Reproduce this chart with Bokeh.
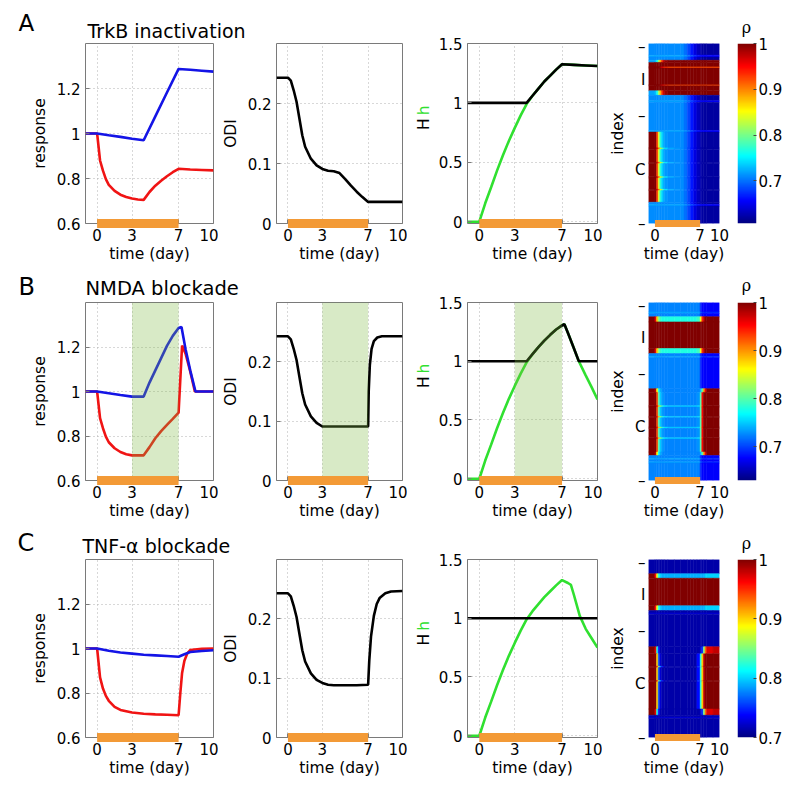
import numpy as np
from math import pi
from bokeh.plotting import figure
from bokeh.layouts import row, column
from bokeh.models import Range1d, FixedTicker, Label, BoxAnnotation, LinearColorMapper, ColumnDataSource
from bokeh.transform import linear_cmap
from bokeh.embed import file_html
from bokeh.resources import INLINE

# ---------------- data ----------------
treat_period = [0, 7]
block_period = [3, 7]

time_ticks = [0, 3, 7, 10]
time_tick_labels = ["0", "3", "7", "10"]
heat_time_ticks = [0, 7, 10]
heat_time_tick_labels = ["0", "7", "10"]
resp_ticks = [0.6, 0.8, 1, 1.2]
resp_tick_labels = ["0.6", "0.8", "1", "1.2"]
odi_ticks = [0, 0.1, 0.2]
odi_tick_labels = ["0", "0.1", "0.2"]
hh_ticks = [0, 0.5, 1, 1.5]
hh_tick_labels = ["0", "0.5", "1", "1.5"]
index_ticks = [0, 20, 40, 70, 100]
index_tick_labels = ["–", "I", "–", "C", "–"]
rho_ticks = [0.7, 0.8, 0.9, 1]
rho_tick_labels = ["0.7", "0.8", "0.9", "1"]

row_letters = ["A", "B", "C"]
row_titles = ["TrkB inactivation", "NMDA blockade", "TNF-α blockade"]
rho_low = [0.607, 0.63, 0.70]
rho_high = [1.0, 1.0, 1.0]

# --- row A: TrkB inactivation ---
tA_red = [-1, 0, 0.25, 0.5, 0.75, 1, 1.5, 2, 2.5, 3, 3.5, 4, 4.5, 5, 5.5, 6, 6.5, 7, 8, 9, 10]
redA = [1.0, 1.0, 0.88, 0.835, 0.797, 0.772, 0.745, 0.728, 0.718, 0.711, 0.707, 0.705, 0.74, 0.768, 0.79, 0.81, 0.828, 0.843, 0.84, 0.838, 0.836]
tA_blue = [-1, 0, 1, 2, 3, 4, 5, 6, 7, 8, 9, 10]
blueA = [1.0, 1.0, 0.992, 0.985, 0.977, 0.97, 1.076, 1.182, 1.287, 1.283, 1.279, 1.275]
tA_odi = [-1, 0, 0.25, 0.5, 0.75, 1, 1.25, 1.5, 2, 2.5, 3, 3.5, 4, 4.5, 5, 5.5, 6, 6.5, 7, 8, 9, 10]
odiA = [0.243, 0.243, 0.238, 0.222, 0.203, 0.175, 0.147, 0.128, 0.108, 0.097, 0.091, 0.088, 0.087, 0.084, 0.074, 0.063, 0.053, 0.044, 0.036, 0.036, 0.036, 0.036]
tA_h = [-1, 0, 0.5, 1, 1.5, 2, 2.5, 3, 3.5, 4, 4.5, 5, 5.5, 6, 6.5, 7, 8, 9, 10]
hA = [0, 0, 0.155, 0.29, 0.43, 0.56, 0.68, 0.79, 0.895, 0.99, 1.06, 1.12, 1.18, 1.23, 1.28, 1.325, 1.32, 1.315, 1.31]
tA_H = [-1, 0, 0.5, 1, 1.5, 2, 2.5, 3, 3.5, 4, 4.5, 5, 5.5, 6, 6.5, 7, 8, 9, 10]
HA = [1, 1, 1, 1, 1, 1, 1, 1, 1, 1, 1.06, 1.12, 1.18, 1.23, 1.28, 1.325, 1.32, 1.315, 1.31]

# --- row B: NMDA blockade ---
tB_red = [-1, 0, 0.25, 0.5, 0.75, 1, 1.5, 2, 2.5, 3, 4, 4.5, 5, 5.5, 6, 6.5, 7, 7.3, 7.6, 8, 8.4, 9, 10]
redB = [1.0, 1.0, 0.88, 0.835, 0.797, 0.772, 0.745, 0.728, 0.718, 0.713, 0.713, 0.75, 0.79, 0.822, 0.85, 0.877, 0.905, 1.207, 1.17, 1.09, 1.0, 1.0, 1.0]
tB_blue = [-1, 0, 1, 2, 3, 4, 4.5, 5, 5.5, 6, 6.5, 7, 7.25, 7.6, 8, 8.45, 9, 10]
blueB = [1.0, 1.0, 0.992, 0.984, 0.977, 0.977, 1.04, 1.095, 1.15, 1.205, 1.25, 1.285, 1.29, 1.19, 1.095, 1.0, 1.0, 1.0]
tB_odi = [-1, 0, 0.25, 0.5, 0.75, 1, 1.25, 1.5, 2, 2.5, 3, 7, 7.05, 7.15, 7.3, 7.5, 7.8, 8.2, 10]
odiB = [0.243, 0.243, 0.238, 0.222, 0.203, 0.175, 0.147, 0.128, 0.108, 0.097, 0.091, 0.091, 0.15, 0.195, 0.222, 0.235, 0.241, 0.243, 0.243]
tB_h = [-1, 0, 0.5, 1, 1.5, 2, 2.5, 3, 3.5, 4, 4.5, 5, 5.5, 6, 6.5, 7, 7.2, 7.5, 8, 8.42, 9, 9.5, 10]
hB = [0, 0, 0.155, 0.29, 0.43, 0.56, 0.68, 0.79, 0.895, 0.99, 1.06, 1.12, 1.175, 1.225, 1.27, 1.305, 1.315, 1.24, 1.11, 1.0, 0.88, 0.78, 0.675]
tB_H = [-1, 0, 0.5, 1, 1.5, 2, 2.5, 3, 3.5, 4, 4.5, 5, 5.5, 6, 6.5, 7, 7.2, 7.5, 8, 8.42, 9, 9.5, 10]
HB = [1, 1, 1, 1, 1, 1, 1, 1, 1, 1, 1.06, 1.12, 1.175, 1.225, 1.27, 1.305, 1.315, 1.24, 1.11, 1.0, 1.0, 1.0, 1.0]

# --- row C: TNF-alpha blockade ---
tC_red = [-1, 0, 0.25, 0.5, 0.75, 1, 1.5, 2, 3, 4, 5, 6, 7, 7.15, 7.3, 7.5, 7.75, 8, 9, 10]
redC = [1.0, 1.0, 0.87, 0.82, 0.787, 0.765, 0.738, 0.724, 0.712, 0.707, 0.704, 0.702, 0.70, 0.80, 0.89, 0.945, 0.978, 0.993, 0.999, 1.0]
tC_blue = [-1, 0, 1, 2, 3, 4, 5, 6, 7, 7.5, 8, 9, 10]
blueC = [1.0, 1.0, 0.99, 0.982, 0.977, 0.972, 0.969, 0.966, 0.963, 0.974, 0.984, 0.989, 0.992]
tC_odi = [-1, 0, 0.25, 0.5, 0.75, 1, 1.25, 1.5, 2, 2.5, 3, 3.5, 4, 5, 6, 7, 7.1, 7.25, 7.5, 7.75, 8, 8.5, 9, 10]
odiC = [0.243, 0.243, 0.238, 0.222, 0.203, 0.175, 0.147, 0.128, 0.108, 0.097, 0.092, 0.089, 0.088, 0.088, 0.088, 0.089, 0.13, 0.17, 0.205, 0.225, 0.235, 0.243, 0.246, 0.247]
tC_h = [-1, 0, 0.5, 1, 1.5, 2, 2.5, 3, 3.5, 4, 4.5, 5, 5.5, 6, 6.5, 7, 7.5, 7.75, 8, 8.5, 9, 9.5, 10]
hC = [0, 0, 0.155, 0.29, 0.43, 0.56, 0.68, 0.79, 0.895, 0.99, 1.06, 1.12, 1.18, 1.23, 1.28, 1.325, 1.30, 1.285, 1.2, 1.02, 0.91, 0.83, 0.75]
tC_H = [-1, 10]
HC = [1, 1]

# --- heatmaps (rho per neuron group over time bins) ---
heat_time_edges = [-1, 0, 0.25, 0.5, 0.75, 1, 1.25, 1.5, 2, 3, 4, 4.5, 5, 5.5, 6, 6.5, 7, 7.25, 7.5, 7.75, 8, 9, 10]

A_bg      = [0.71, 0.71, 0.71, 0.71, 0.71, 0.71, 0.71, 0.71, 0.71, 0.71, 0.71, 0.70, 0.685, 0.665, 0.645, 0.632, 0.625, 0.622, 0.62, 0.62, 0.62, 0.62]
A_streak  = [0.72, 0.72, 0.72, 0.72, 0.72, 0.72, 0.72, 0.72, 0.72, 0.72, 0.718, 0.71, 0.70, 0.685, 0.67, 0.662, 0.658, 0.656, 0.655, 0.655, 0.655, 0.655]
A_I       = [1.0, 1.0, 1.0, 1.0, 1.0, 1.0, 1.0, 1.0, 1.0, 1.0, 1.0, 1.0, 1.0, 1.0, 1.0, 1.0, 1.0, 1.0, 1.0, 1.0, 1.0, 1.0]
A_Istreak = [1.0, 1.0, 1.0, 1.0, 0.98, 0.96, 0.94, 0.93, 0.92, 0.92, 0.92, 0.92, 0.92, 0.92, 0.92, 0.92, 0.92, 0.92, 0.92, 0.92, 0.92, 0.92]
A_fringe  = [0.72, 0.73, 0.76, 0.82, 0.88, 0.93, 0.97, 0.99, 1.0, 1.0, 1.0, 1.0, 1.0, 1.0, 1.0, 1.0, 1.0, 1.0, 1.0, 1.0, 1.0, 1.0]
A_C       = [1.0, 1.0, 0.93, 0.84, 0.77, 0.74, 0.725, 0.715, 0.71, 0.71, 0.71, 0.70, 0.685, 0.665, 0.645, 0.632, 0.625, 0.622, 0.62, 0.62, 0.62, 0.62]
A_Cstreak = [1.0, 1.0, 0.97, 0.92, 0.86, 0.81, 0.77, 0.745, 0.725, 0.715, 0.71, 0.70, 0.685, 0.665, 0.645, 0.632, 0.625, 0.622, 0.62, 0.62, 0.62, 0.62]
A_rows = [(0, 6.5, "bg"), (6.5, 7.5, "streak"), (7.5, 9.3, "bg"), (9.3, 10.5, "fringe"), (10.5, 13, "I"),
          (13, 13.6, "Istreak"), (13.6, 23, "I"), (23, 23.5, "Istreak"), (23.5, 26.3, "I"), (26.3, 28.8, "fringe"),
          (28.8, 31.8, "bg"), (31.8, 32.6, "streak"), (32.6, 48.3, "bg"), (48.3, 49.2, "streak"), (49.2, 58, "C"),
          (58, 58.7, "Cstreak"), (58.7, 66, "C"), (66, 66.7, "Cstreak"), (66.7, 74, "C"), (74, 74.7, "Cstreak"),
          (74.7, 81, "C"), (81, 81.7, "Cstreak"), (81.7, 88.2, "C"), (88.2, 89.5, "bg"), (89.5, 90.3, "streak"),
          (90.3, 100, "bg")]

B_bg      = [0.725, 0.725, 0.725, 0.725, 0.725, 0.725, 0.725, 0.725, 0.725, 0.725, 0.725, 0.725, 0.725, 0.725, 0.725, 0.725, 0.69, 0.678, 0.675, 0.675, 0.675, 0.675]
B_streak  = [0.735, 0.735, 0.735, 0.735, 0.735, 0.735, 0.735, 0.735, 0.735, 0.735, 0.735, 0.735, 0.735, 0.735, 0.735, 0.735, 0.71, 0.695, 0.69, 0.69, 0.69, 0.69]
B_I       = [1.0, 1.0, 1.0, 1.0, 1.0, 1.0, 1.0, 1.0, 1.0, 1.0, 1.0, 1.0, 1.0, 1.0, 1.0, 1.0, 1.0, 1.0, 1.0, 1.0, 1.0, 1.0]
B_fringe  = [1.0, 0.96, 0.88, 0.82, 0.79, 0.78, 0.78, 0.78, 0.78, 0.78, 0.78, 0.78, 0.78, 0.78, 0.78, 0.79, 0.86, 0.94, 0.98, 1.0, 1.0, 1.0]
B_C       = [1.0, 1.0, 0.93, 0.80, 0.75, 0.735, 0.73, 0.725, 0.725, 0.725, 0.725, 0.725, 0.725, 0.725, 0.725, 0.73, 0.80, 0.95, 1.0, 1.0, 1.0, 1.0]
B_Cstreak = [1.0, 1.0, 0.96, 0.88, 0.82, 0.79, 0.77, 0.76, 0.75, 0.75, 0.75, 0.75, 0.75, 0.75, 0.75, 0.755, 0.82, 0.95, 1.0, 1.0, 1.0, 1.0]
B_Cedge   = [1.0, 0.98, 0.86, 0.77, 0.74, 0.73, 0.725, 0.725, 0.725, 0.725, 0.725, 0.725, 0.725, 0.725, 0.725, 0.725, 0.74, 0.80, 0.90, 0.96, 1.0, 1.0]
B_rows = [(0, 5.3, "bg"), (5.3, 6.2, "streak"), (6.2, 8.0, "bg"), (8.0, 10.9, "fringe"), (10.9, 25.9, "I"),
          (25.9, 28.7, "fringe"), (28.7, 30.2, "bg"), (30.2, 31.0, "streak"), (31.0, 48.4, "bg"), (48.4, 50.5, "Cedge"),
          (50.5, 58, "C"), (58, 58.7, "Cstreak"), (58.7, 64, "C"), (64, 64.7, "Cstreak"), (64.7, 70, "C"),
          (70, 70.7, "Cstreak"), (70.7, 76, "C"), (76, 76.7, "Cstreak"), (76.7, 84, "C"), (84, 86, "Cedge"),
          (86, 87.5, "bg"), (87.5, 88.3, "streak"), (88.3, 89.5, "bg"), (89.5, 90.2, "streak"), (90.2, 100, "bg")]

C_bg      = [0.712, 0.712, 0.712, 0.712, 0.712, 0.712, 0.712, 0.712, 0.712, 0.712, 0.712, 0.712, 0.712, 0.712, 0.712, 0.712, 0.712, 0.712, 0.712, 0.712, 0.712, 0.712]
C_streak  = [0.725, 0.725, 0.725, 0.725, 0.725, 0.725, 0.725, 0.725, 0.725, 0.725, 0.725, 0.725, 0.725, 0.725, 0.725, 0.725, 0.725, 0.725, 0.725, 0.725, 0.725, 0.725]
C_I       = [1.0, 1.0, 1.0, 1.0, 1.0, 1.0, 1.0, 1.0, 1.0, 1.0, 1.0, 1.0, 1.0, 1.0, 1.0, 1.0, 1.0, 1.0, 1.0, 1.0, 1.0, 1.0]
C_fringe  = [1.0, 0.96, 0.88, 0.82, 0.80, 0.79, 0.79, 0.79, 0.79, 0.79, 0.79, 0.79, 0.79, 0.79, 0.79, 0.79, 0.79, 0.79, 0.79, 0.80, 0.80, 0.80]
C_C       = [1.0, 1.0, 0.90, 0.76, 0.725, 0.715, 0.712, 0.712, 0.712, 0.712, 0.712, 0.712, 0.712, 0.712, 0.712, 0.74, 0.82, 0.90, 0.98, 1.0, 1.0, 1.0]
C_Cstreak = [1.0, 1.0, 0.95, 0.85, 0.78, 0.745, 0.725, 0.715, 0.712, 0.712, 0.712, 0.712, 0.712, 0.712, 0.712, 0.75, 0.83, 0.92, 0.99, 1.0, 1.0, 1.0]
C_Cedge   = [1.0, 0.97, 0.82, 0.74, 0.715, 0.712, 0.712, 0.712, 0.712, 0.712, 0.712, 0.712, 0.712, 0.712, 0.712, 0.712, 0.72, 0.75, 0.85, 0.93, 0.97, 0.98]
C_rows = [(0, 8.0, "bg"), (8.0, 10.5, "fringe"), (10.5, 26, "I"), (26, 28.7, "fringe"), (28.7, 30, "bg"),
          (30, 30.7, "streak"), (30.7, 49, "bg"), (49, 53, "Cedge"), (53, 60, "C"), (60, 60.7, "Cstreak"),
          (60.7, 68, "C"), (68, 68.7, "Cstreak"), (68.7, 84, "C"), (84, 87.5, "Cedge"), (87.5, 88.5, "bg"),
          (88.5, 89.2, "streak"), (89.2, 100, "bg")]

# ---------------- style / layout ----------------
RED = "#f01414"
BLUE = "#1414e6"
GREEN = "#30e030"
BLACK = "#000000"
ORANGE = "#f39a36"
SHADE = "#7dbb42"
FRAME = "#7a7a7a"
FONT = "DejaVu Sans"
TICK_SIZE = "15px"
LABEL_SIZE = "15.5px"
LW = 2.6

# columns: (frame width, border left, border right); index 2 is the "H h" label strip
COLS = [(128, 85, 5), (129, 55, 5), (25, 0, 0), (130, 35, 5), (71, 46, 18), (19, 0, 36)]
LEFT_W = sum(c[0] + c[1] + c[2] for c in COLS[:2])
RIGHT_W = sum(c[0] + c[1] + c[2] for c in COLS[2:])
# rows: (left header h, left border top, right header h, right border top, frame h, border bottom)
ROWS = [(42, 1, 37, 6, 180, 48), (30, 1, 25, 6, 178, 48), (30, 1, 25, 6, 178, 47)]
# header text centres (x px, y px from header top)
HEAD_LETTER = [(18, 22.5), (18, 15.5), (17, 14.5)]
HEAD_TITLE = [(87, 30.5), (85, 17.3), (82, 17)]
HEAD_RHO = [(339, 27), (339, 14), (339, 15)]
LETTER_SIZE = ["23px", "24px", "24px"]
TITLE_SIZE = ["19px", "19.5px", "19px"]


def jet_palette(n=256):
    cols = []
    for i in range(n):
        t = i / (n - 1)
        r = min(max(min(4 * t - 1.5, -4 * t + 4.5), 0), 1)
        g = min(max(min(4 * t - 0.5, -4 * t + 3.5), 0), 1)
        b = min(max(min(4 * t + 0.5, -4 * t + 2.5), 0), 1)
        cols.append("#%02x%02x%02x" % (int(round(r * 255)), int(round(g * 255)), int(round(b * 255))))
    return cols


JET = jet_palette()


def make_fig(ci, bt, fh, bb, xr, yr, **kw):
    fw, bl, br = COLS[ci]
    p = figure(width=bl + fw + br, height=bt + fh + bb, x_range=xr, y_range=yr,
               output_backend="svg", toolbar_location=None,
               min_border_left=bl, min_border_right=br, min_border_top=bt, min_border_bottom=bb, **kw)
    p.background_fill_color = "white"
    p.border_fill_color = "white"
    p.outline_line_color = FRAME
    p.outline_line_width = 1
    return p


def blank_fig(w, h):
    p = figure(width=w, height=h, x_range=Range1d(0, w), y_range=Range1d(h, 0),
               output_backend="svg", toolbar_location=None, x_axis_location=None, y_axis_location=None,
               min_border_left=0, min_border_right=0, min_border_top=0, min_border_bottom=0)
    p.outline_line_color = None
    p.grid.visible = False
    p.background_fill_color = "white"
    p.border_fill_color = "white"
    return p


def style_axes(p, xticks, xlabels, yticks, ylabels, ylabel, grid=True, ticks_visible=True):
    p.xaxis.ticker = FixedTicker(ticks=xticks)
    p.xaxis.major_label_overrides = {k: v for k, v in zip(xticks, xlabels)}
    p.yaxis.ticker = FixedTicker(ticks=yticks)
    p.yaxis.major_label_overrides = {k: v for k, v in zip(yticks, ylabels)}
    for ax in p.axis:
        ax.axis_line_color = None
        ax.major_tick_in = 4 if ticks_visible else 0
        ax.major_tick_out = 0
        ax.major_tick_line_color = FRAME if ticks_visible else None
        ax.minor_tick_line_color = None
        ax.major_label_text_font = FONT
        ax.major_label_text_font_size = TICK_SIZE
        ax.major_label_text_color = "black"
        ax.axis_label_text_font = FONT
        ax.axis_label_text_font_size = LABEL_SIZE
        ax.axis_label_text_font_style = "normal"
        ax.axis_label_text_color = "black"
    p.xaxis.axis_label = "time (day)"
    p.xaxis.major_label_standoff = 5
    p.xaxis.axis_label_standoff = 1
    p.yaxis.major_label_standoff = 5
    p.yaxis.axis_label_standoff = 5
    if ylabel:
        p.yaxis.axis_label = ylabel
    if grid:
        p.grid.grid_line_color = "#b0b0b0"
        p.grid.grid_line_dash = "1 3"
        p.grid.grid_line_width = 1
    else:
        p.grid.visible = False


def add_treatment(p, ybase, width=9):
    p.line(treat_period, [ybase, ybase], line_width=width, color=ORANGE, level="overlay")


def add_block(p):
    p.add_layout(BoxAnnotation(left=block_period[0], right=block_period[1], fill_color=SHADE,
                               fill_alpha=0.3, line_color=None, level="annotation"))


def heat_source(rows, profiles):
    l, r, t, b, v = [], [], [], [], []
    for (i0, i1, name) in rows:
        prof = profiles[name]
        for k in range(len(heat_time_edges) - 1):
            l.append(heat_time_edges[k])
            r.append(heat_time_edges[k + 1])
            t.append(i0)
            b.append(i1)
            v.append(prof[k])
    return ColumnDataSource(dict(l=l, r=r, t=t, b=b, v=v))


def build_row(ri, red, blue, odi, h, H, heat_rows, heat_prof, shaded):
    lh, lbt, rh, rbt, fh, bb = ROWS[ri]

    # ---- left header: letter + title ----
    hl = blank_fig(LEFT_W, lh)
    lx, ly = HEAD_LETTER[ri]
    hl.add_layout(Label(x=lx, y=ly, text=row_letters[ri], text_font=FONT, text_font_size=LETTER_SIZE[ri],
                        text_align="left", text_baseline="middle", text_color="black"))
    tx, ty = HEAD_TITLE[ri]
    hl.add_layout(Label(x=tx, y=ty, text=row_titles[ri], text_font=FONT, text_font_size=TITLE_SIZE[ri],
                        text_align="left", text_baseline="middle", text_color="black"))

    # ---- right header: rho ----
    hr = blank_fig(RIGHT_W, rh)
    rx, ry = HEAD_RHO[ri]
    hr.add_layout(Label(x=rx, y=ry, text="ρ", text_font="DejaVu Serif", text_font_size="16px",
                        text_align="center", text_baseline="middle", text_color="black"))

    # ---- response ----
    p1 = make_fig(0, lbt, fh, bb, Range1d(-1, 10), Range1d(0.6, 1.4))
    style_axes(p1, time_ticks, time_tick_labels, resp_ticks, resp_tick_labels, "response")
    p1.line(red[0], red[1], line_width=LW, color=RED)
    p1.line(blue[0], blue[1], line_width=LW, color=BLUE)
    if shaded:
        add_block(p1)
    add_treatment(p1, 0.6)

    # ---- ODI ----
    p2 = make_fig(1, lbt, fh, bb, Range1d(-1, 10), Range1d(0, 0.3))
    style_axes(p2, time_ticks, time_tick_labels, odi_ticks, odi_tick_labels, "ODI")
    p2.line(odi[0], odi[1], line_width=LW, color=BLACK)
    if shaded:
        add_block(p2)
    add_treatment(p2, 0)

    # ---- "H h" axis-label strip ----
    ps = blank_fig(COLS[2][0], rbt + fh + bb)
    ymid = rbt + fh / 2
    ps.add_layout(Label(x=16, y=ymid + 9, text="H", angle=pi / 2, text_font=FONT,
                        text_font_size=LABEL_SIZE, text_align="center", text_baseline="middle",
                        text_color="black"))
    ps.add_layout(Label(x=16, y=ymid - 9, text="h", angle=pi / 2, text_font=FONT,
                        text_font_size=LABEL_SIZE, text_align="center", text_baseline="middle",
                        text_color=GREEN))

    # ---- H h ----
    p3 = make_fig(3, rbt, fh, bb, Range1d(-1, 10), Range1d(-0.015, 1.5))
    style_axes(p3, time_ticks, time_tick_labels, hh_ticks, hh_tick_labels, None)
    p3.line(h[0], h[1], line_width=LW, color=GREEN)
    p3.line(H[0], H[1], line_width=LW, color=BLACK)
    if shaded:
        add_block(p3)
    add_treatment(p3, -0.015)

    # ---- heatmap ----
    low, high = rho_low[ri], rho_high[ri]
    p4 = make_fig(4, rbt, fh, bb, Range1d(-1, 10), Range1d(100, 0))
    style_axes(p4, heat_time_ticks, heat_time_tick_labels, index_ticks, index_tick_labels, "index",
               grid=False, ticks_visible=False)
    p4.yaxis.major_label_standoff = 3
    p4.outline_line_color = None
    src = heat_source(heat_rows, heat_prof)
    cmap = linear_cmap("v", JET, low, high)
    p4.quad(left="l", right="r", top="t", bottom="b", source=src, fill_color=cmap, line_color=cmap,
            line_width=0.5)
    add_treatment(p4, 100, width=7)

    # ---- colour bar ----
    p5 = make_fig(5, rbt, fh, bb, Range1d(0, 1), Range1d(low, high), x_axis_location=None,
                  y_axis_location="right")
    p5.outline_line_color = None
    p5.grid.visible = False
    mapper = LinearColorMapper(palette=JET, low=low, high=high)
    grad = np.linspace(low, high, 256).reshape(-1, 1)
    p5.image(image=[grad], x=0, y=low, dw=1, dh=high - low, color_mapper=mapper)
    ax = p5.yaxis[0]
    ax.ticker = FixedTicker(ticks=rho_ticks)
    ax.major_label_overrides = {k: v for k, v in zip(rho_ticks, rho_tick_labels)}
    ax.axis_line_color = None
    ax.major_tick_in = 3
    ax.major_tick_out = 0
    ax.major_tick_line_color = "#444444"
    ax.minor_tick_line_color = None
    ax.major_label_standoff = 2
    ax.major_label_text_font = FONT
    ax.major_label_text_font_size = TICK_SIZE
    ax.major_label_text_color = "black"

    left = column(hl, row(p1, p2))
    right = column(hr, row(ps, p3, p4, p5))
    return row(left, right)


rowA = build_row(0, (tA_red, redA), (tA_blue, blueA), (tA_odi, odiA), (tA_h, hA), (tA_H, HA),
                 A_rows, {"bg": A_bg, "streak": A_streak, "I": A_I, "Istreak": A_Istreak,
                          "fringe": A_fringe, "C": A_C, "Cstreak": A_Cstreak}, False)
rowB = build_row(1, (tB_red, redB), (tB_blue, blueB), (tB_odi, odiB), (tB_h, hB), (tB_H, HB),
                 B_rows, {"bg": B_bg, "streak": B_streak, "I": B_I, "fringe": B_fringe,
                          "C": B_C, "Cstreak": B_Cstreak, "Cedge": B_Cedge}, True)
rowC = build_row(2, (tC_red, redC), (tC_blue, blueC), (tC_odi, odiC), (tC_h, hC), (tC_H, HC),
                 C_rows, {"bg": C_bg, "streak": C_streak, "I": C_I, "fringe": C_fringe,
                          "C": C_C, "Cstreak": C_Cstreak, "Cedge": C_Cedge}, False)

layout = column(rowA, rowB, rowC)
open("out.html", "w").write(file_html(layout, INLINE))
